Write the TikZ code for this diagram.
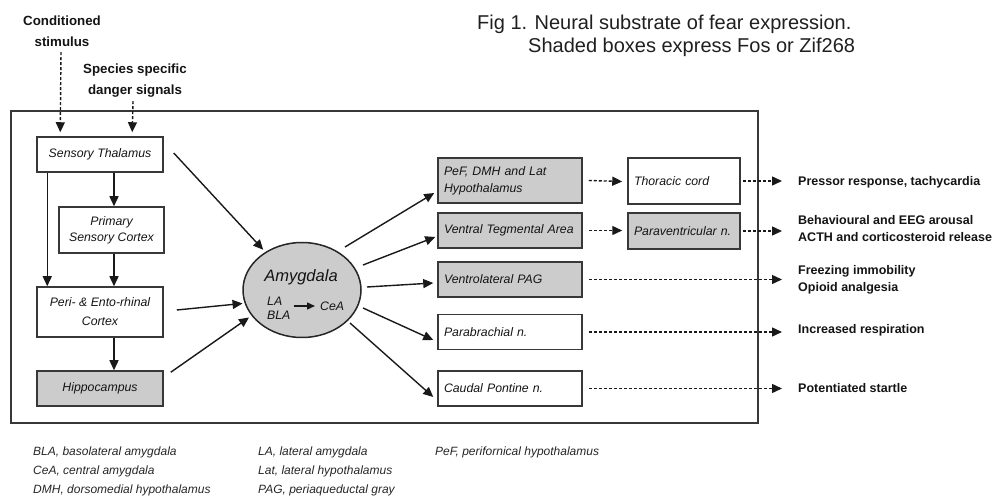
\documentclass[tikz,border=0pt]{standalone}
\usepackage{fontspec}
\setmainfont{Liberation Sans}
\usetikzlibrary{arrows.meta,calc,shapes.geometric}
\begin{document}
\begin{tikzpicture}[x=1pt,y=-1pt,
  every node/.style={inner sep=0pt},
  fr/.style={draw=black!78, line width=1.7pt},
  bfont/.style={font=\fontsize{12.3}{15}\selectfont\itshape},
  boxl/.style={draw=black!78, line width=1.5pt, align=center, text=black!92, bfont},
  boxr/.style={draw=black!78, line width=1.5pt, align=left, inner xsep=6pt, text width=132pt, minimum height=35pt, text=black!92, bfont},
  shaded/.style={fill=black!20},
  arr/.style={draw=black!90, line width=1.4pt, -{Triangle[length=10pt,width=9pt]}},
  darr/.style={arr, dash pattern=on 3pt off 2pt},
  lbl/.style={font=\fontsize{13.3}{21}\selectfont\bfseries, align=center, text=black!92},
  resp/.style={font=\fontsize{12.5}{17}\selectfont\bfseries, align=left, anchor=west, text=black!92},
  leg/.style={font=\fontsize{12}{19}\selectfont\itshape, align=left, anchor=north west, text=black!85}
]
\useasboundingbox (0,0) rectangle (997,497);

% frame
\draw[fr] (11,111) rectangle (758,423);

% title
\node[anchor=north west, align=left, font=\fontsize{20}{23}\selectfont, text=black!88] (title) at (477,14.5)
  {Fig 1. Neural substrate of fear expression.\\\hspace*{51pt}Shaded boxes express Fos or Zif268};

% inputs
\node[lbl, anchor=north] (cs) at (62,16) {Conditioned\\stimulus};
\node[lbl, anchor=north] (ss) at (135,63.3) {Species specific\\danger signals};

% left column
\node[boxl, minimum width=126pt, minimum height=35pt] (st) at (100,154.5) {Sensory Thalamus};
\node[boxl, minimum width=105pt, minimum height=46pt, font=\fontsize{12.3}{16}\selectfont\itshape] (psc) at (111.5,230) {Primary\\Sensory Cortex};
\node[boxl, minimum width=126pt, minimum height=50pt, font=\fontsize{12.3}{19}\selectfont\itshape] (peri) at (100,312) {Peri- \& Ento-rhinal\\Cortex};
\node[boxl, shaded, minimum width=126pt, minimum height=35pt] (hip) at (100,388.5) {Hippocampus};

% amygdala
\node[ellipse, draw=black!85, line width=1.5pt, fill=black!20, minimum width=118pt, minimum height=95pt] (amy) at (302,290) {};
\node[font=\fontsize{16.5}{18}\selectfont\itshape, text=black!92] (amyt) at (301,277) {Amygdala};
\node[font=\fontsize{12.3}{14}\selectfont\itshape, align=left, anchor=west, text=black!92] (la) at (267,308) {LA\\BLA};
\node[font=\fontsize{12.3}{14}\selectfont\itshape, anchor=west, text=black!92] (cea) at (320,306) {CeA};
\draw[arr, line width=1.3pt, -{Triangle[length=8pt,width=7pt]}, shorten <=3pt, shorten >=5pt] (la.east |- cea.west) -- (cea.west);

% right column
\node[boxr, shaded, minimum height=45pt, font=\fontsize{12.3}{17}\selectfont\itshape] (pef) at (510,180.5) {PeF, DMH and Lat\\Hypothalamus};
\node[boxr, shaded] (vta) at (510,230.5) {Ventral Tegmental Area};
\node[boxr, shaded] (pag) at (510,279.5) {Ventrolateral PAG};
\node[boxr] (pb) at (510,332) {Parabrachial n.};
\node[boxr] (cp) at (510,388.5) {Caudal Pontine n.};
\node[boxr, text width=100pt, minimum height=46pt] (tc) at (684,181) {Thoracic cord};
\node[boxr, shaded, text width=100pt, minimum height=36pt] (pvn) at (684,231) {Paraventricular n.};

% responses
\node[resp] (r1) at (798,182) {Pressor response, tachycardia};
\node[resp] (r2) at (798,229) {Behavioural and EEG arousal\\ACTH and corticosteroid release};
\node[resp] (r3) at (798,279.5) {Freezing immobility\\Opioid analgesia};
\node[resp] (r4) at (798,330) {Increased respiration};
\node[resp] (r5) at (798,388) {Potentiated startle};

% legend
\node[leg] (l1) at (33,447) {BLA, basolateral amygdala\\CeA, central amygdala\\DMH, dorsomedial hypothalamus};
\node[leg] (l2) at (258,447) {LA, lateral amygdala\\Lat, lateral hypothalamus\\PAG, periaqueductal gray};
\node[leg] (l3) at (435,447) {PeF, perifornical hypothalamus};

% input arrows
\draw[darr] ($(cs.south)+(-1,5)$) -- ($(st.north west)+(24,-4)$);
\draw[darr] ($(ss.south)+(-2,4)$) -- ($(st.north west)+(96,-4)$);

% left column arrows
\draw[arr] ($(st.south)+(14,0)$) -- ($(psc.north)+(2.5,0)$);
\draw[arr] ($(psc.south)+(2.5,0)$) -- ($(peri.north)+(14,0)$);
\draw[arr] ($(peri.south)+(14,0)$) -- ($(hip.north)+(14,0)$);
\draw[arr] ($(st.south west)+(11,0)$) -- ($(peri.north west)+(11,0)$);

% into amygdala
\draw[arr, shorten >=3pt] ($(st.east)+(10,-1.5)$) -- (amy.134);
\draw[arr, shorten >=2pt] ($(peri.east)+(13,-2)$) -- (amy.193);
\draw[arr, shorten >=3pt] ($(hip.north east)+(7,2)$) -- (amy.207);

% out of amygdala
\draw[arr] ($(amy.center)+(43,-43)$) -- ($(pef.west)+(-3,12.5)$);
\draw[arr] ($(amy.center)+(61,-25)$) -- ($(vta.west)+(-2,6.5)$);
\draw[arr] ($(amy.center)+(65,-3)$) -- ($(pag.west)+(-4,3.5)$);
\draw[arr] ($(amy.center)+(61,18)$) -- ($(pb.west)+(-4,8)$);
\draw[arr] ($(amy.center)+(48,33)$) -- ($(cp.west)+(-4,8.5)$);

% dashed outputs
\draw[darr] ($(pef.east)+(6,0)$) -- ($(tc.west)+(-5,0.5)$);
\draw[darr] ($(tc.east)+(2,0)$) -- ($(tc.east -| r1.west)+(-16,0)$);
\draw[darr] ($(vta.east)+(6,0)$) -- ($(pvn.west)+(-5,-0.5)$);
\draw[darr] ($(pvn.east)+(2,0)$) -- ($(pvn.east -| r2.west)+(-16,0)$);
\draw[darr] ($(pag.east)+(6,0)$) -- ($(pag.east -| r3.west)+(-16,0)$);
\draw[darr] ($(pb.east)+(6,0)$) -- ($(pb.east -| r4.west)+(-16,0)$);
\draw[darr] ($(cp.east)+(6,0)$) -- ($(cp.east -| r5.west)+(-16,0)$);
\end{tikzpicture}
\end{document}
